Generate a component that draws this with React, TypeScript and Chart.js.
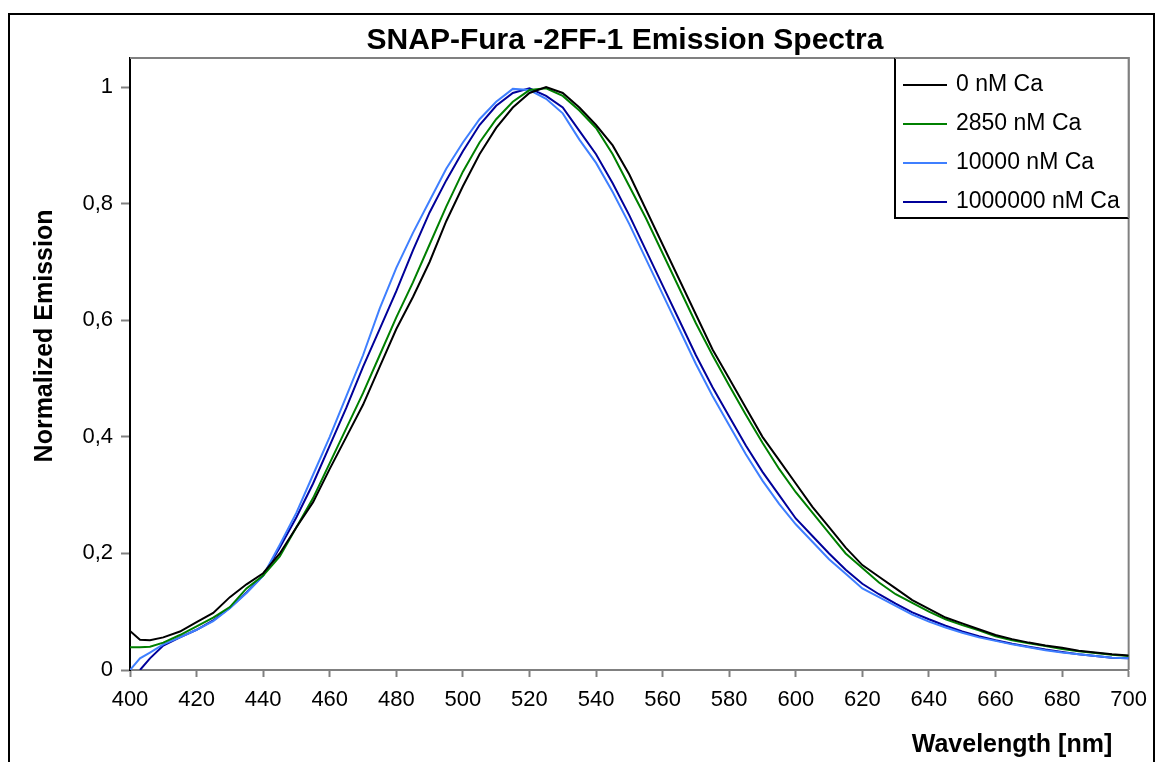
import React, { useEffect, useRef } from "react";
import { Chart, registerables } from "chart.js";

Chart.register(...registerables);

const wavelengths = [400, 403, 406, 410, 415, 420, 425, 430, 435, 440, 445, 450, 455, 460, 465, 470, 475, 480, 485, 490, 495, 500, 505, 510, 515, 520, 525, 530, 535, 540, 545, 550, 555, 560, 565, 570, 575, 580, 585, 590, 595, 600, 605, 610, 615, 620, 625, 630, 635, 640, 645, 650, 655, 660, 665, 670, 675, 680, 685, 690, 695, 700];

const ca0 = [0.067, 0.052, 0.051, 0.056, 0.066, 0.082, 0.098, 0.125, 0.147, 0.166, 0.2, 0.245, 0.288, 0.345, 0.4, 0.455, 0.52, 0.585, 0.64, 0.7, 0.77, 0.83, 0.885, 0.93, 0.965, 0.99, 1.0, 0.99, 0.965, 0.935, 0.9, 0.85, 0.79, 0.73, 0.67, 0.61, 0.55, 0.5, 0.45, 0.4, 0.36, 0.32, 0.28, 0.245, 0.21, 0.18, 0.16, 0.14, 0.12, 0.105, 0.09, 0.08, 0.07, 0.06, 0.053, 0.047, 0.042, 0.038, 0.033, 0.03, 0.027, 0.025];

const ca2850 = [0.039, 0.039, 0.04, 0.047, 0.06, 0.075, 0.09, 0.108, 0.14, 0.162, 0.195, 0.245, 0.295, 0.355, 0.415, 0.475, 0.54, 0.605, 0.665, 0.73, 0.795, 0.855, 0.905, 0.945, 0.975, 0.995, 0.998, 0.985, 0.96, 0.93, 0.885, 0.83, 0.775, 0.715, 0.655, 0.595, 0.54, 0.488, 0.438, 0.39, 0.345, 0.305, 0.27, 0.235, 0.2, 0.175, 0.15, 0.13, 0.115, 0.1, 0.087, 0.077, 0.068, 0.058, 0.051, 0.046, 0.041, 0.036, 0.032, 0.029, 0.026, 0.024];

const ca10000 = [0.0, 0.02, 0.03, 0.044, 0.056, 0.069, 0.084, 0.106, 0.132, 0.162, 0.215, 0.27, 0.335, 0.4, 0.47, 0.54, 0.62, 0.69, 0.75, 0.805, 0.86, 0.905, 0.945, 0.975, 0.997, 0.995, 0.98, 0.955, 0.91, 0.87, 0.82, 0.765, 0.705, 0.645, 0.585, 0.525, 0.47, 0.42, 0.37, 0.325, 0.285, 0.25, 0.22, 0.19, 0.165, 0.14, 0.125, 0.11, 0.095, 0.083, 0.073, 0.064, 0.056, 0.05, 0.044, 0.039, 0.034, 0.03, 0.027, 0.024, 0.021, 0.02];

const ca1000000 = [null, 0.0, 0.02, 0.042, 0.056, 0.069, 0.085, 0.107, 0.133, 0.162, 0.21, 0.262, 0.32, 0.385, 0.45, 0.52, 0.585, 0.65, 0.72, 0.785, 0.84, 0.89, 0.935, 0.968, 0.99, 0.998, 0.985, 0.965, 0.925, 0.885, 0.835, 0.78, 0.72, 0.66, 0.6, 0.54, 0.485, 0.435, 0.385, 0.34, 0.3, 0.26, 0.23, 0.2, 0.172, 0.148, 0.13, 0.114, 0.099, 0.087, 0.076, 0.066, 0.058, 0.051, 0.045, 0.04, 0.035, 0.031, 0.027, 0.024, 0.021, 0.02];

const seriesNames = ["0 nM Ca", "2850 nM Ca", "10000 nM Ca", "1000000 nM Ca"];
const seriesValues = [ca0, ca2850, ca10000, ca1000000];
const seriesColors = ["#000000", "#008000", "#3f7fff", "#000099"];

const xTickValues = [400, 420, 440, 460, 480, 500, 520, 540, 560, 580, 600, 620, 640, 660, 680, 700];
const yTickValues = [0, 0.2, 0.4, 0.6, 0.8, 1];

const chartTitle = "SNAP-Fura -2FF-1 Emission Spectra";
const xAxisTitle = "Wavelength [nm]";
const yAxisTitle = "Normalized Emission";

const FONT = "'Liberation Sans', Arial, sans-serif";

const decorPlugin = {
  id: "decor",
  beforeDraw(chart: any) {
    const ctx = chart.ctx;
    ctx.save();
    ctx.fillStyle = "#ffffff";
    ctx.fillRect(0, 0, chart.width, chart.height);
    ctx.restore();
  },
  beforeDatasetsDraw(chart: any) {
    const ctx = chart.ctx;
    const a = chart.chartArea;
    ctx.save();
    ctx.strokeStyle = "#808080";
    ctx.lineWidth = 2;
    ctx.beginPath();
    ctx.moveTo(a.left, a.top);
    ctx.lineTo(a.right, a.top);
    ctx.lineTo(a.right, a.bottom);
    ctx.stroke();
    ctx.restore();
  },
  afterDraw(chart: any) {
    const ctx = chart.ctx;
    const a = chart.chartArea;
    ctx.save();
    // outer frame
    ctx.strokeStyle = "#000000";
    ctx.lineWidth = 2;
    ctx.beginPath();
    ctx.moveTo(9, 800);
    ctx.lineTo(9, 14);
    ctx.lineTo(1154, 14);
    ctx.lineTo(1154, 800);
    ctx.stroke();

    // title
    ctx.fillStyle = "#000000";
    ctx.font = `bold 30px ${FONT}`;
    ctx.textAlign = "center";
    ctx.textBaseline = "middle";
    ctx.fillText(chartTitle, 625, 41);

    // x axis title
    ctx.font = `bold 25px ${FONT}`;
    ctx.fillText(xAxisTitle, 1012, 745);

    // y axis title
    ctx.save();
    ctx.translate(45, 336);
    ctx.rotate(-Math.PI / 2);
    ctx.fillText(yAxisTitle, 0, 0);
    ctx.restore();

    // legend
    const lx = 895, ly = a.top, lw = a.right - 895, lh = 160;
    ctx.fillStyle = "#ffffff";
    ctx.fillRect(lx, ly, lw, lh);
    ctx.strokeStyle = "#000000";
    ctx.lineWidth = 2;
    ctx.beginPath();
    ctx.moveTo(lx, ly);
    ctx.lineTo(lx, ly + lh);
    ctx.lineTo(lx + lw, ly + lh);
    ctx.stroke();
    ctx.strokeStyle = "#808080";
    ctx.beginPath();
    ctx.moveTo(lx, ly);
    ctx.lineTo(lx + lw, ly);
    ctx.lineTo(lx + lw, ly + lh);
    ctx.stroke();
    ctx.font = `23px ${FONT}`;
    ctx.textAlign = "left";
    ctx.textBaseline = "middle";
    seriesNames.forEach((name, i) => {
      const cy = ly + 27 + i * 39;
      ctx.strokeStyle = seriesColors[i];
      ctx.lineWidth = 2;
      ctx.beginPath();
      ctx.moveTo(903, cy);
      ctx.lineTo(947, cy);
      ctx.stroke();
      ctx.fillStyle = "#000000";
      ctx.fillText(name, 956, cy);
    });
    ctx.restore();
  },
};

export default function App() {
  const canvasRef = useRef<HTMLCanvasElement | null>(null);

  useEffect(() => {
    document.body.style.margin = "0";
    const canvas = canvasRef.current;
    if (!canvas) return;
    const datasets = seriesNames.map((name, i) => ({
      label: name,
      data: wavelengths.map((w, j) => ({ x: w, y: seriesValues[i][j] })),
      borderColor: seriesColors[i],
      backgroundColor: seriesColors[i],
      borderWidth: 2,
      pointRadius: 0,
      tension: 0,
      fill: false,
      spanGaps: false,
    }));
    const chart = new Chart(canvas, {
      type: "line",
      data: { datasets },
      plugins: [decorPlugin],
      options: {
        animation: false,
        responsive: false,
        devicePixelRatio: 1,
        layout: { padding: { left: 0, right: 24, top: 58, bottom: 0 } },
        plugins: {
          legend: { display: false },
          title: { display: false },
          tooltip: { enabled: false },
        },
        scales: {
          x: {
            type: "linear",
            min: 400,
            max: 700,
            afterBuildTicks: (scale: any) => {
              scale.ticks = xTickValues.map((v) => ({ value: v }));
            },
            afterFit: (scale: any) => {
              scale.height = 92;
            },
            grid: {
              drawOnChartArea: false,
              drawTicks: true,
              tickLength: 7,
              tickColor: "#808080",
              tickWidth: 2,
            },
            border: { display: true, color: "#808080", width: 2 },
            ticks: {
              color: "#000000",
              font: { family: FONT, size: 22 },
              padding: 10,
              maxRotation: 0,
              autoSkip: false,
              callback: (v: any) => String(v),
            },
          },
          y: {
            type: "linear",
            min: 0,
            max: 1.05,
            afterBuildTicks: (scale: any) => {
              scale.ticks = yTickValues.map((v) => ({ value: v }));
            },
            afterFit: (scale: any) => {
              scale.width = 130;
            },
            grid: {
              drawOnChartArea: false,
              drawTicks: true,
              tickLength: 9,
              tickColor: "#808080",
              tickWidth: 2,
            },
            border: { display: true, color: "#000000", width: 2 },
            ticks: {
              color: "#000000",
              font: { family: FONT, size: 22 },
              padding: 8,
              autoSkip: false,
              callback: (v: any) => String(Number(v).toFixed(v === 0 || v === 1 ? 0 : 1)).replace(".", ","),
            },
          },
        },
      },
    });
    return () => chart.destroy();
  }, []);

  return (
    <div style={{ width: 1157, height: 762 }}>
      <canvas ref={canvasRef} width={1157} height={762} style={{ display: "block", width: 1157, height: 762 }} />
    </div>
  );
}
